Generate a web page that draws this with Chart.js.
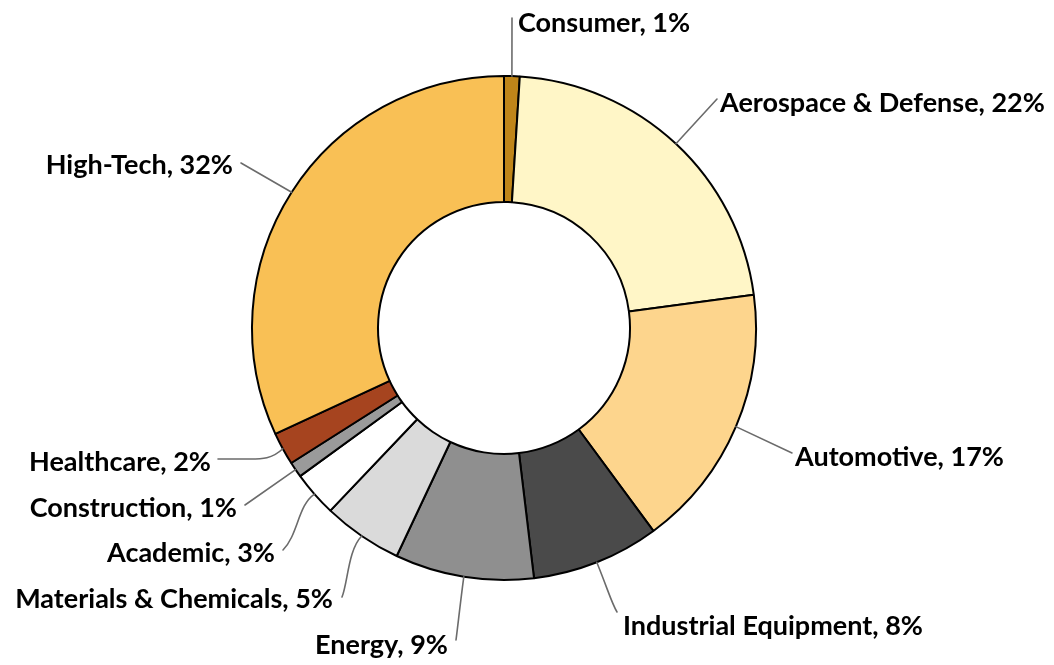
<!DOCTYPE html>
<html>
<head>
<meta charset="utf-8">
<script src="https://cdn.jsdelivr.net/npm/chart.js@4/dist/chart.umd.min.js"></script>
<style>
  html, body { margin: 0; padding: 0; background: #ffffff; }
  #wrap { width: 1054px; height: 665px; position: relative; }
</style>
</head>
<body>
<div id="wrap"><canvas id="c" width="1054" height="665"></canvas></div>
<script>
// ---- data ----
const categories = ["Consumer", "Aerospace & Defense", "Automotive", "Industrial Equipment", "Energy",
                    "Materials & Chemicals", "Academic", "Construction", "Healthcare", "High-Tech"];
const shares = [1.0, 21.9, 17.0, 8.2, 8.9, 5.1, 2.9, 1.0, 2.1, 31.9];
const percentLabels = ["1%", "22%", "17%", "8%", "9%", "5%", "3%", "1%", "2%", "32%"];

// ---- styles ----
const sliceColors = ["#BF8519", "#FFF6C7", "#FDD58D", "#4A4A4A", "#8F8F8F",
                     "#DADADA", "#FFFFFF", "#9A9A9A", "#A6441F", "#F9C055"];

// label layout: text anchor (x, baseline y, align) and leader segments after the arc edge point
// segment: [x, y] = straight line; [cx1, cy1, cx2, cy2, x, y] = bezier curve
const labelLayout = [
  { x: 518, y: 32,  align: "left",  path: [[512, 18]] },
  { x: 720, y: 112, align: "left",  path: [[717, 99]] },
  { x: 795, y: 466, align: "left",  path: [[792, 453]] },
  { x: 623, y: 635, align: "left",  path: [[608, 590, 612, 604, 617, 612]] },
  { x: 448, y: 654, align: "right", path: [[460, 605, 458, 625, 456, 640]] },
  { x: 333, y: 608, align: "right", path: [[348, 550, 348, 582, 342, 597]] },
  { x: 275, y: 562, align: "right", path: [[298, 505, 298, 535, 283, 550]] },
  { x: 237, y: 517, align: "right", path: [[245, 505]] },
  { x: 211, y: 471, align: "right", path: [[272, 459, 262, 459, 250, 459], [218, 459]] },
  { x: 233, y: 174, align: "right", path: [[241, 163]] }
];

const labelPlugin = {
  id: "leaderLabels",
  afterDatasetsDraw(chart) {
    const ctx = chart.ctx;
    const meta = chart.getDatasetMeta(0);
    ctx.save();
    meta.data.forEach((arc, i) => {
      const lay = labelLayout[i];
      const mid = (arc.startAngle + arc.endAngle) / 2;
      const sx = arc.x + Math.cos(mid) * arc.outerRadius;
      const sy = arc.y + Math.sin(mid) * arc.outerRadius;
      ctx.beginPath();
      ctx.moveTo(sx, sy);
      lay.path.forEach(p => {
        if (p.length === 6) ctx.bezierCurveTo(p[0], p[1], p[2], p[3], p[4], p[5]);
        else ctx.lineTo(p[0], p[1]);
      });
      ctx.strokeStyle = "#6B6B6B";
      ctx.lineWidth = 1.6;
      ctx.lineJoin = "round";
      ctx.lineCap = "round";
      ctx.stroke();
      ctx.font = "bold 27px Lato";
      ctx.fillStyle = "#000000";
      ctx.textAlign = lay.align;
      ctx.textBaseline = "alphabetic";
      ctx.fillText(categories[i] + ", " + percentLabels[i], lay.x, lay.y);
    });
    ctx.restore();
  }
};

new Chart(document.getElementById("c"), {
  type: "doughnut",
  data: {
    labels: categories,
    datasets: [{
      data: shares,
      backgroundColor: sliceColors,
      borderColor: "#000000",
      borderWidth: 2,
      borderAlign: "center"
    }]
  },
  options: {
    responsive: false,
    animation: false,
    cutout: "50%",
    layout: { padding: { left: 251, top: 75, right: 297, bottom: 84 } },
    plugins: { legend: { display: false }, tooltip: { enabled: false } }
  },
  plugins: [labelPlugin]
});
</script>
</body>
</html>
